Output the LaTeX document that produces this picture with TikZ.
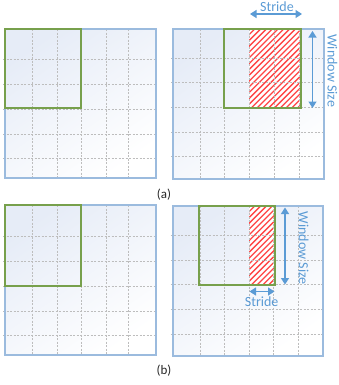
\documentclass[tikz,border=0pt]{standalone}
\usepackage{fontspec}
\setmainfont{Carlito}
\usetikzlibrary{arrows.meta}
\definecolor{frameblue}{HTML}{9BBBDE}
\definecolor{fillblue}{HTML}{E6ECF7}
\definecolor{winggreen}{HTML}{77A04C}
\definecolor{gridgray}{HTML}{BDBDBD}
\definecolor{hatchred}{HTML}{FF4545}
\definecolor{arrblue}{HTML}{5B9BD5}
\tikzset{
  panel/.style={top color=fillblue, bottom color=white, shading angle=35},
  frame/.style={draw=frameblue, line width=2bp},
  gridline/.style={draw=gridgray, line width=1bp, dash pattern=on 2bp off 1.5bp},
  winbox/.style={draw=winggreen, line width=1.8bp},
  hatchline/.style={draw=hatchred, line width=1.3bp},
  dimarrow/.style={draw=arrblue, line width=1.5bp, {Triangle[length=6.5bp,width=8bp]}-{Triangle[length=6.5bp,width=8bp]}},
  dimlabel/.style={text=arrblue, font=\fontsize{14bp}{14bp}\selectfont, inner sep=0pt},
  caplabel/.style={text=black!85, font=\fontsize{13bp}{13bp}\selectfont, inner sep=0pt}
}
\begin{document}
\begin{tikzpicture}[x=1bp,y=-1bp]
\useasboundingbox (0,0) -- (339,0) -- (339,385) -- (0,385) -- cycle;
% ---------- panel 1
\shade[panel] (5,29) -- (156,29) -- (156,178) -- (5,178) -- cycle;
\foreach \x in {32.5,57.5,81.5,106.5,128.5}
  \draw[gridline] (\x,29) -- (\x,178);
\foreach \y in {59.5,84.5,109.5,134.5,158.5}
  \draw[gridline] (3,\y) -- (156,\y);
\draw[frame] (5,29) -- (156,29) -- (156,178) -- (5,178) -- cycle;
\draw[winbox] (5,29) -- (81,29) -- (81,108) -- (5,108) -- cycle;
% ---------- panel 2
\shade[panel] (173,29) -- (324,29) -- (324,179) -- (173,179) -- cycle;
\fill[white] (249,29) -- (301,29) -- (301,108) -- (249,108) -- cycle;
\begin{scope}
  \clip (249,29) -- (301,29) -- (301,108) -- (249,108) -- cycle;
  \foreach \k in {0,...,24}
    \draw[hatchline] (249+\k*5.8-80,109) -- ++(90,-90);
\end{scope}
\foreach \x in {200.5,224.5,249.5,274.5,299.5}
  \draw[gridline] (\x,29) -- (\x,179);
\foreach \y in {58.5,82.5,107.5,132.5,156.5}
  \draw[gridline] (171,\y) -- (324,\y);
\draw[frame] (173,29) -- (324,29) -- (324,179) -- (173,179) -- cycle;
\draw[winbox] (224,29) -- (301,29) -- (301,108) -- (224,108) -- cycle;
\coordinate (s1a) at (250,14);
\coordinate (s1b) at (302,14);
\draw[dimarrow] (s1a) -- (s1b);
\node[dimlabel] (st1) at (277,6.5) {Stride};
\coordinate (w1a) at (312.5,31);
\coordinate (w1b) at (312.5,108);
\draw[dimarrow] (w1a) -- (w1b);
\node[dimlabel, rotate=-90] (ws1) at (332.5,70.8) {Window Size};
\node[caplabel] (capa) at (164,194.5) {(a)};
% ---------- panel 3
\shade[panel] (5,205) -- (156,205) -- (156,355) -- (5,355) -- cycle;
\foreach \x in {32.5,57.5,81.5,106.5,128.5}
  \draw[gridline] (\x,205) -- (\x,355);
\foreach \y in {236.5,261.5,286.5,311.5,335.5}
  \draw[gridline] (3,\y) -- (156,\y);
\draw[frame] (5,205) -- (156,205) -- (156,355) -- (5,355) -- cycle;
\draw[winbox] (5,205) -- (81,205) -- (81,286) -- (5,286) -- cycle;
% ---------- panel 4
\shade[panel] (173,206) -- (323,206) -- (323,356) -- (173,356) -- cycle;
\fill[white] (249,206) -- (275,206) -- (275,285) -- (249,285) -- cycle;
\begin{scope}
  \clip (249,206) -- (275,206) -- (275,285) -- (249,285) -- cycle;
  \foreach \k in {0,...,20}
    \draw[hatchline] (249+\k*5.8-80,286) -- ++(90,-90);
\end{scope}
\foreach \x in {200.5,224.5,249.5,273.5,298.5}
  \draw[gridline] (\x,206) -- (\x,356);
\foreach \y in {235.5,260.5,284.5,309.5,334.5}
  \draw[gridline] (170.5,\y) -- (323,\y);
\draw[frame] (173,206) -- (323,206) -- (323,356) -- (173,356) -- cycle;
\draw[winbox] (199,206) -- (275,206) -- (275,285) -- (199,285) -- cycle;
\coordinate (w2a) at (285,207.5);
\coordinate (w2b) at (285,284.5);
\draw[dimarrow] (w2a) -- (w2b);
\node[dimlabel, rotate=-90] (ws2) at (303.7,248.3) {Window Size};
\coordinate (s2a) at (249.5,291.5);
\coordinate (s2b) at (274.5,291.5);
\draw[dimarrow] (s2a) -- (s2b);
\node[dimlabel] (st2) at (261.7,302) {Stride};
\node[caplabel] (capb) at (164,371) {(b)};
\end{tikzpicture}
\end{document}
